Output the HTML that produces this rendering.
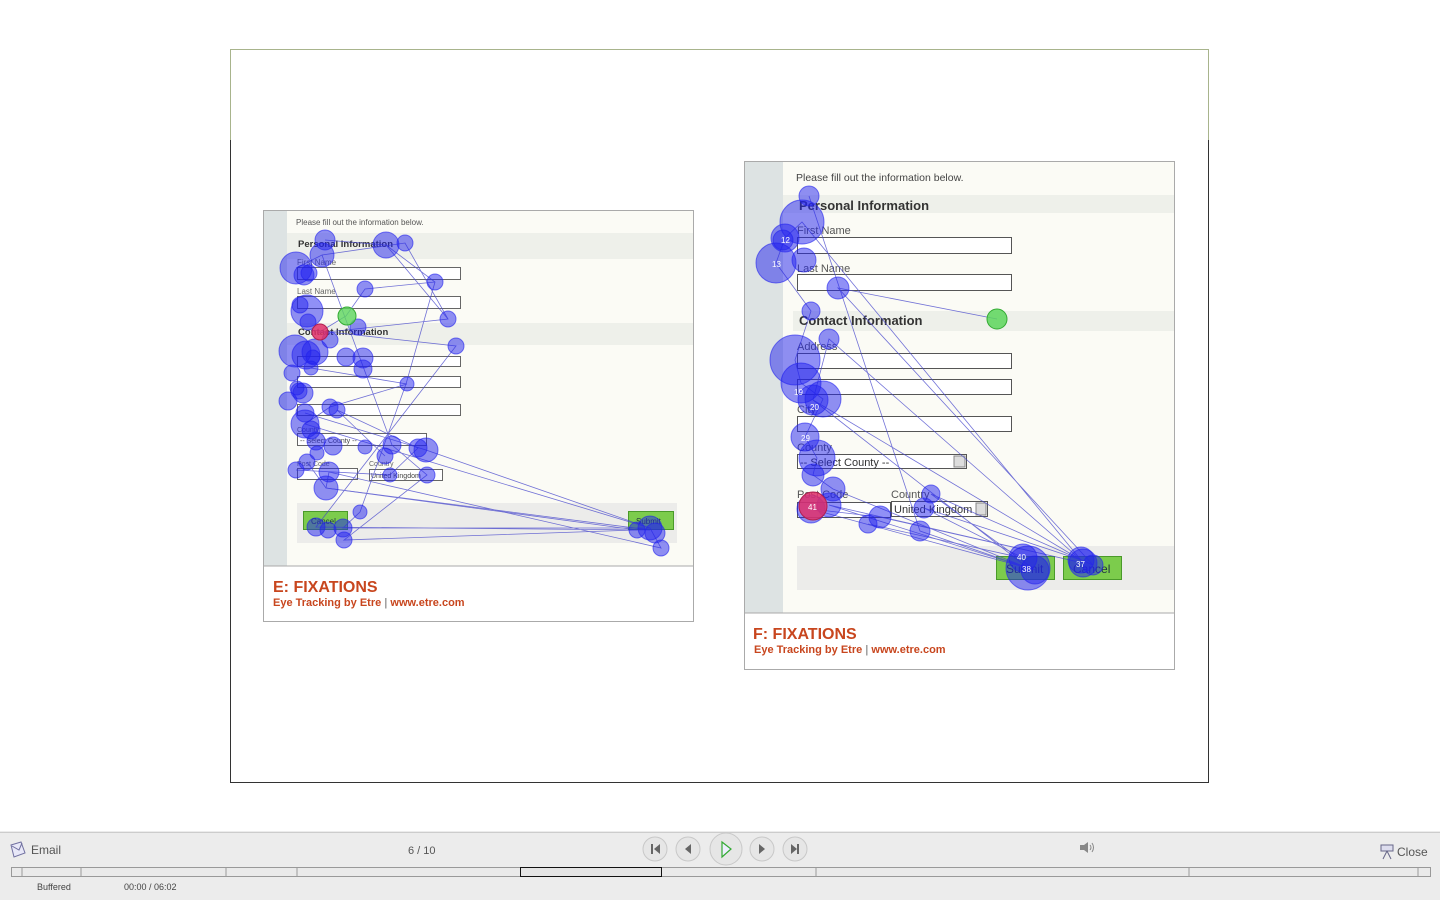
<!DOCTYPE html>
<html><head><meta charset="utf-8"><style>
html,body{margin:0;padding:0;background:#fff;width:1440px;height:900px;overflow:hidden}
svg text{font-family:"Liberation Sans",sans-serif}
</style></head><body>
<svg width="1440" height="900" viewBox="0 0 1440 900" xmlns="http://www.w3.org/2000/svg">
<rect x="230.5" y="49.5" width="978" height="733" fill="#fff" stroke="#a8b48c"/>
<line x1="230.5" y1="140" x2="230.5" y2="783" stroke="#333"/>
<line x1="1208.5" y1="140" x2="1208.5" y2="783" stroke="#333"/>
<line x1="230" y1="782.5" x2="1209" y2="782.5" stroke="#333"/>

<g>
<rect x="263.5" y="210.5" width="430" height="411" fill="#fff" stroke="#aaa"/>
<rect x="264" y="211" width="429" height="355" fill="#fbfbf5"/>
<rect x="264" y="211" width="23" height="355" fill="#dde3e3"/>
<rect x="287" y="233" width="406" height="26" fill="#eef0ea"/>
<rect x="287" y="323" width="406" height="22" fill="#eef0ea"/>
<rect x="297" y="503" width="380" height="40" fill="#ececea"/>
<line x1="264" y1="566" x2="693" y2="566" stroke="#aaa"/>
<text x="296" y="225" font-size="8" fill="#555">Please fill out the information below.</text>
<text x="298" y="247" font-size="9.5" font-weight="bold" fill="#333">Personal Information</text>
<text x="297" y="265" font-size="8" fill="#666">First Name</text>
<rect x="297.5" y="267.5" width="163" height="12" fill="#fff" stroke="#666"/>
<text x="297" y="294" font-size="8" fill="#666">Last Name</text>
<rect x="297.5" y="296.5" width="163" height="12" fill="#fff" stroke="#666"/>
<text x="298" y="335" font-size="9.5" font-weight="bold" fill="#333">Contact Information</text>
<rect x="297.5" y="356.5" width="163" height="10" fill="#fff" stroke="#666"/>
<rect x="297.5" y="376.5" width="163" height="11" fill="#fff" stroke="#666"/>
<rect x="297.5" y="404.5" width="163" height="11" fill="#fff" stroke="#666"/>
<text x="297" y="432" font-size="7" fill="#666">County</text>
<rect x="297.5" y="433.5" width="129" height="12" fill="#fff" stroke="#666"/>
<text x="300" y="443" font-size="7" fill="#444">-- Select County --</text>
<text x="297" y="466" font-size="7" fill="#666">Post Code</text>
<rect x="297.5" y="468.5" width="60" height="11" fill="#fff" stroke="#666"/>
<text x="369" y="466" font-size="7" fill="#666">Country</text>
<rect x="369.5" y="469.5" width="73" height="11" fill="#fff" stroke="#666"/>
<text x="371" y="478" font-size="7" fill="#444">United Kingdom</text>
<rect x="303.5" y="511.5" width="44" height="18" fill="#7ccc4c" stroke="#4a9a2a"/>
<text x="311" y="524" font-size="8" fill="#234">Cancel</text>
<rect x="628.5" y="511.5" width="45" height="18" fill="#7ccc4c" stroke="#4a9a2a"/>
<text x="636" y="524" font-size="8" fill="#234">Submit</text>
<text x="273" y="592" font-size="16" font-weight="bold" fill="#c8461e">E: FIXATIONS</text>
<text x="273" y="606" font-size="11" font-weight="600" fill="#c8461e">Eye Tracking by Etre  <tspan fill="#999">|</tspan>  www.etre.com</text>
</g>
<g stroke="#4444cc" stroke-width="0.8" fill="none" opacity="0.75">
<polyline points="325,240 386,245 435,282 406,384 360,512 343,528 650,528 661,548 329,472 326,488 650,530 316,527 456,346 311,330"/>
<polyline points="296,268 322,255 405,243 448,319 318,333 346,316 365,289 435,282"/>
<polyline points="305,413 426,450 650,528 305,424 330,407 407,384 311,368"/>
<polyline points="322,255 392,445 427,475 344,540 637,530 326,488 307,462"/>
<polyline points="386,245 448,319"/>
<polyline points="296,470 390,475 418,448 337,410 337,410 385,456"/>
</g>
<g fill="#2222ee" fill-opacity="0.5" stroke="#2222ee" stroke-opacity="0.6">
<circle cx="325" cy="240" r="10"/><circle cx="386" cy="245" r="13"/><circle cx="405" cy="243" r="8"/>
<circle cx="296" cy="268" r="16"/><circle cx="304" cy="275" r="10"/><circle cx="322" cy="255" r="12"/><circle cx="309" cy="273" r="8"/>
<circle cx="365" cy="289" r="8"/><circle cx="435" cy="282" r="8"/><circle cx="307" cy="311" r="16"/><circle cx="300" cy="305" r="8"/>
<circle cx="308" cy="322" r="8"/><circle cx="448" cy="319" r="8"/><circle cx="330" cy="340" r="8"/>
<circle cx="456" cy="346" r="8"/><circle cx="295" cy="351" r="16"/><circle cx="306" cy="355" r="14"/><circle cx="315" cy="352" r="13"/>
<circle cx="313" cy="357" r="7"/><circle cx="346" cy="357" r="9"/><circle cx="363" cy="358" r="10"/><circle cx="363" cy="369" r="9"/>
<circle cx="311" cy="368" r="7"/><circle cx="292" cy="373" r="8"/><circle cx="297" cy="388" r="7"/><circle cx="303" cy="393" r="10"/>
<circle cx="299" cy="391" r="8"/><circle cx="288" cy="401" r="9"/><circle cx="305" cy="413" r="9"/><circle cx="330" cy="407" r="8"/>
<circle cx="337" cy="410" r="8"/><circle cx="407" cy="384" r="7"/><circle cx="305" cy="424" r="14"/><circle cx="311" cy="430" r="9"/>
<circle cx="316" cy="441" r="9"/><circle cx="333" cy="446" r="9"/><circle cx="365" cy="447" r="7"/><circle cx="392" cy="445" r="9"/>
<circle cx="418" cy="448" r="9"/><circle cx="426" cy="450" r="12"/><circle cx="385" cy="456" r="8"/><circle cx="317" cy="453" r="7"/>
<circle cx="307" cy="462" r="8"/><circle cx="296" cy="470" r="8"/><circle cx="329" cy="472" r="10"/><circle cx="390" cy="475" r="7"/>
<circle cx="427" cy="475" r="8"/><circle cx="326" cy="488" r="12"/><circle cx="360" cy="512" r="7"/><circle cx="316" cy="527" r="9"/>
<circle cx="328" cy="530" r="8"/><circle cx="343" cy="528" r="9"/><circle cx="344" cy="540" r="8"/><circle cx="637" cy="530" r="8"/>
<circle cx="650" cy="528" r="12"/><circle cx="655" cy="533" r="10"/><circle cx="661" cy="548" r="8"/><circle cx="358" cy="327" r="8"/>
</g>
<circle cx="347" cy="316" r="9" fill="#5cd65c" fill-opacity="0.8" stroke="#3a3"/>
<circle cx="320" cy="332" r="8" fill="#e0306a" fill-opacity="0.85" stroke="#b02050"/>

<g>
<rect x="744.5" y="161.5" width="430" height="508" fill="#fff" stroke="#aaa"/>
<rect x="745" y="162" width="429" height="451" fill="#fbfbf5"/>
<rect x="745" y="162" width="38" height="451" fill="#dde3e3"/>
<rect x="783" y="195" width="391" height="18" fill="#eef0ea"/>
<rect x="793" y="311" width="381" height="20" fill="#eef0ea"/>
<rect x="797" y="546" width="377" height="44" fill="#ececea"/>
<line x1="745" y1="613" x2="1174" y2="613" stroke="#aaa"/>
<text x="796" y="181" font-size="10.5" fill="#444">Please fill out the information below.</text>
<text x="799" y="210" font-size="13" font-weight="bold" fill="#333">Personal Information</text>
<text x="797" y="234" font-size="11" fill="#555">First Name</text>
<rect x="797.5" y="237.5" width="214" height="16" fill="#fff" stroke="#555"/>
<text x="797" y="272" font-size="11" fill="#555">Last Name</text>
<rect x="797.5" y="274.5" width="214" height="16" fill="#fff" stroke="#555"/>
<text x="799" y="325" font-size="13" font-weight="bold" fill="#333">Contact Information</text>
<text x="797" y="350" font-size="11" fill="#555">Address</text>
<rect x="797.5" y="353.5" width="214" height="15" fill="#fff" stroke="#555"/>
<rect x="797.5" y="379.5" width="214" height="15" fill="#fff" stroke="#555"/>
<text x="797" y="413" font-size="11" fill="#555">City</text>
<rect x="797.5" y="416.5" width="214" height="15" fill="#fff" stroke="#555"/>
<text x="797" y="451" font-size="11" fill="#555">County</text>
<rect x="797.5" y="454.5" width="169" height="14" fill="#fff" stroke="#555"/>
<text x="800" y="466" font-size="11" fill="#333">-- Select County --</text>
<rect x="954" y="456" width="11" height="11" fill="#ddd" stroke="#888"/>
<text x="797" y="498" font-size="11" fill="#555">Post Code</text>
<rect x="797.5" y="502.5" width="93" height="15" fill="#fff" stroke="#555"/>
<text x="891" y="498" font-size="11" fill="#555">Country</text>
<rect x="891.5" y="501.5" width="96" height="15" fill="#fff" stroke="#555"/>
<text x="894" y="513" font-size="11" fill="#333">United Kingdom</text>
<rect x="976" y="503" width="10" height="12" fill="#ddd" stroke="#888"/>
<rect x="996.5" y="556.5" width="58" height="23" fill="#7ccc4c" stroke="#4a9a2a"/>
<text x="1006" y="573" font-size="12" fill="#234">Submit</text>
<rect x="1063.5" y="556.5" width="58" height="23" fill="#7ccc4c" stroke="#4a9a2a"/>
<text x="1073" y="573" font-size="12" fill="#234">Cancel</text>
<text x="753" y="639" font-size="16" font-weight="bold" fill="#c8461e">F: FIXATIONS</text>
<text x="754" y="653" font-size="11" font-weight="600" fill="#c8461e">Eye Tracking by Etre  <tspan fill="#999">|</tspan>  www.etre.com</text>
</g>
<g stroke="#4444cc" stroke-width="0.8" fill="none" opacity="0.75">
<polyline points="809,196 920,531 1028,568 813,400 1081,560 802,222 785,238 776,263 811,311 795,360 801,383 823,399 805,437 817,458 813,475 833,489 1028,568 829,505 1083,563 880,517 811,509 1035,570 931,494 1093,565 838,288 997,319"/>
<polyline points="868,524 1023,558 924,508 1081,560 829,339 813,400"/>
</g>
<g fill="#2222ee" fill-opacity="0.5" stroke="#2222ee" stroke-opacity="0.6">
<circle cx="809" cy="196" r="10"/><circle cx="802" cy="222" r="22"/><circle cx="785" cy="238" r="14"/><circle cx="783" cy="240" r="10"/>
<circle cx="776" cy="263" r="20"/><circle cx="804" cy="260" r="12"/><circle cx="838" cy="288" r="11"/><circle cx="811" cy="311" r="9"/>
<circle cx="829" cy="339" r="10"/><circle cx="795" cy="360" r="25"/><circle cx="801" cy="383" r="20"/><circle cx="813" cy="400" r="15"/>
<circle cx="823" cy="399" r="18"/><circle cx="805" cy="437" r="14"/><circle cx="817" cy="458" r="18"/><circle cx="813" cy="475" r="11"/>
<circle cx="833" cy="489" r="12"/><circle cx="829" cy="505" r="12"/><circle cx="811" cy="509" r="14"/><circle cx="931" cy="494" r="9"/>
<circle cx="924" cy="508" r="10"/><circle cx="880" cy="517" r="11"/><circle cx="868" cy="524" r="9"/><circle cx="920" cy="531" r="10"/>
<circle cx="1023" cy="558" r="14"/><circle cx="1028" cy="568" r="22"/><circle cx="1035" cy="570" r="14"/><circle cx="1081" cy="560" r="13"/>
<circle cx="1083" cy="563" r="14"/><circle cx="1093" cy="565" r="10"/>
</g>
<circle cx="997" cy="319" r="10" fill="#5cd65c" fill-opacity="0.85" stroke="#3a3"/>
<circle cx="813" cy="506" r="14" fill="#e0306a" fill-opacity="0.85" stroke="#b02050"/>
<g font-size="8" fill="#fff">
<text x="794" y="395">19</text><text x="810" y="410">20</text><text x="801" y="441">29</text><text x="772" y="267">13</text>
<text x="781" y="243">12</text><text x="808" y="510">41</text><text x="1017" y="560">40</text><text x="1022" y="572">38</text><text x="1076" y="567">37</text>
</g>

<rect x="0" y="831" width="1440" height="69" fill="#ececec"/>
<line x1="0" y1="832.5" x2="1440" y2="832.5" stroke="#ccc"/>
<rect x="11.5" y="867.5" width="1419" height="9" fill="#eaeaea" stroke="#999"/>
<g stroke="#999"><line x1="22" y1="867" x2="22" y2="877"/><line x1="81" y1="867" x2="81" y2="877"/><line x1="226" y1="867" x2="226" y2="877"/><line x1="297" y1="867" x2="297" y2="877"/><line x1="816" y1="867" x2="816" y2="877"/><line x1="1189" y1="867" x2="1189" y2="877"/><line x1="1418" y1="867" x2="1418" y2="877"/></g>
<rect x="520.5" y="867.5" width="141" height="9" fill="#e4e4e4" stroke="#111"/>
<text x="37" y="890" font-size="9" fill="#444">Buffered</text>
<text x="124" y="890" font-size="9" fill="#444">00:00 / 06:02</text>
<path d="M11 845 L21 842 L25 853 L14 857 Z" fill="#e8e8f8" stroke="#7070a0"/>
<path d="M12 846 L19 850 L22 843" fill="none" stroke="#7070a0"/>
<text x="31" y="854" font-size="12" fill="#555">Email</text>
<text x="408" y="854" font-size="11" fill="#555">6 / 10</text>
<g fill="#e6e6e6" stroke="#c8c8c8">
<circle cx="655" cy="849" r="12"/><circle cx="688" cy="849" r="12"/><circle cx="726" cy="849" r="16"/><circle cx="762" cy="849" r="12"/><circle cx="795" cy="849" r="12"/>
</g>
<g fill="#666">
<rect x="651" y="844" width="2" height="10"/><path d="M660 844 L654 849 L660 854 Z"/>
<path d="M691 844 L685 849 L691 854 Z"/>
<path d="M759 844 L765 849 L759 854 Z"/>
<path d="M791 844 L797 849 L791 854 Z"/><rect x="797" y="844" width="2" height="10"/>
</g>
<path d="M722 842 L731 849 L722 857 Z" fill="#eef" stroke="#3a3" stroke-width="1.2"/>
<path d="M1080 845 L1084 845 L1088 842 L1088 853 L1084 850 L1080 850 Z" fill="#888"/>
<path d="M1090 845 Q1092 847.5 1090 850 M1092 843 Q1095 847.5 1092 852" stroke="#888" fill="none"/>
<rect x="1381" y="845" width="12" height="6" fill="#dde" stroke="#668"/>
<path d="M1387 851 L1383 859 M1387 851 L1391 859" stroke="#668"/>
<text x="1397" y="856" font-size="12" fill="#555">Close</text>
</svg>
</body></html>
